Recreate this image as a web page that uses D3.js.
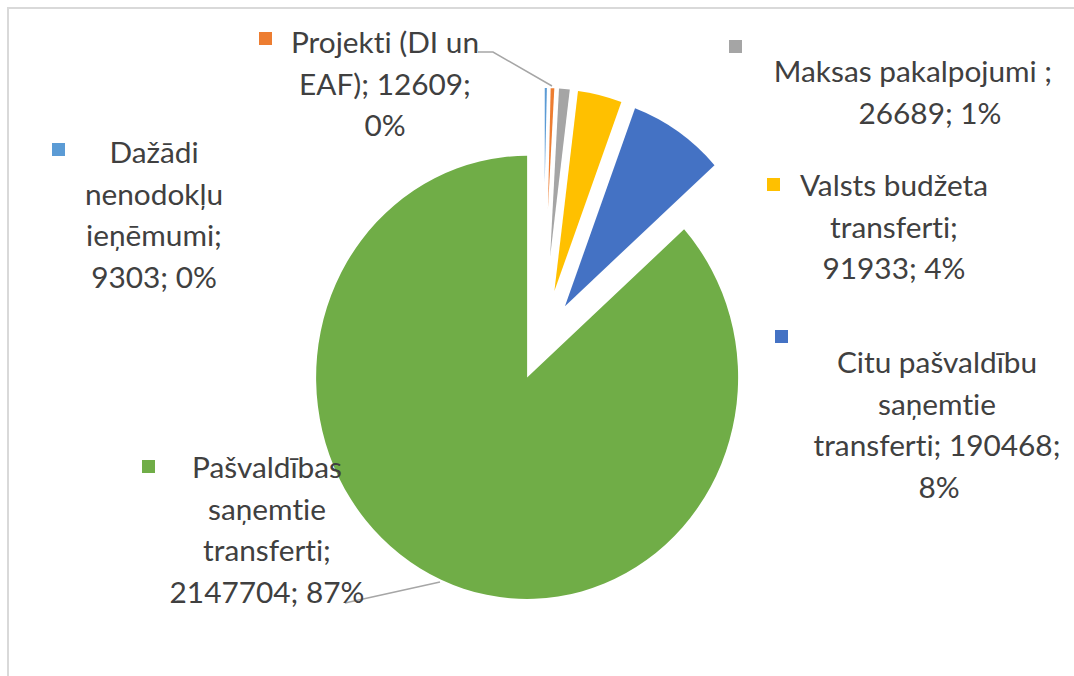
<!DOCTYPE html>
<html><head><meta charset="utf-8">
<script src="https://cdn.jsdelivr.net/npm/d3@7"></script>
<style>html,body{margin:0;padding:0;background:#fff;}svg{display:block;}text{font-variant-ligatures:none;font-feature-settings:"liga" 0,"clig" 0;}</style>
</head><body>
<svg id="chart" width="1074" height="676"></svg>
<script>
// ---- data ----
const categories = ["Dažādi nenodokļu ieņēmumi", "Projekti (DI un EAF)", "Maksas pakalpojumi ", "Valsts budžeta transferti", "Citu pašvaldību saņemtie transferti", "Pašvaldības saņemtie transferti"];
const values = [9303, 12609, 26689, 91933, 190468, 2147704];
const percents = ["0%", "0%", "1%", "4%", "8%", "87%"];
const colors = ["#5B9BD5", "#ED7D31", "#A5A5A5", "#FFC000", "#4472C4", "#70AD47"];

// label text lines (wrapped as in the original)
const labelLines = [
  ["Dažādi", "nenodokļu", "ieņēmumi;", `${values[0]}; ${percents[0]}`],
  ["Projekti (DI un", `EAF); ${values[1]};`, percents[1]],
  ["Maksas pakalpojumi ;", `${values[2]}; ${percents[2]}`],
  ["Valsts budžeta", "transferti;", `${values[3]}; ${percents[3]}`],
  ["Citu pašvaldību", "saņemtie", `transferti; ${values[4]};`, percents[4]],
  ["Pašvaldības", "saņemtie", "transferti;", `${values[5]}; ${percents[5]}`]
];

// ---- layout (positions/styles) ----
const cx = 543, cy = 340, sy = 1.05;
const explode = [150, 125, 80, 48, 39, 39];
const radius = [90, 115, 160, 192, 201, 211];
const labelPos = [
  {x: 154, y: 163, sq: [52, 143], lineX: [0,0,0,0]},
  {x: 385, y: 53, sq: [259, 32], lineX: [0,0,0]},
  {x: 913, y: 82, sq: [729, 40], lineX: [0,17]},
  {x: 894, y: 196, sq: [767, 178], lineX: [0,0,0]},
  {x: 937, y: 373, sq: [775, 330], lineX: [0,0,0,2]},
  {x: 267, y: 478, sq: [142, 460], lineX: [0,0,0,0]}
];
const lineH = 41.5;

const svg = d3.select("#chart");

// border
svg.append("rect").attr("x", 8).attr("y", 8).attr("width", 1100).attr("height", 700)
  .attr("fill", "none").attr("stroke", "#d9d9d9").attr("stroke-width", 2);

const pie = d3.pie().sort(null).value(d => d)(values);

const g = svg.append("g").attr("transform", `translate(${cx},${cy}) scale(1,${sy})`);
g.selectAll("path").data(pie).join("path")
  .attr("transform", (d, i) => {
    const mid = (d.startAngle + d.endAngle) / 2;
    return `translate(${explode[i] * Math.sin(mid)},${-explode[i] * Math.cos(mid)})`;
  })
  .attr("d", (d, i) => d3.arc().innerRadius(0).outerRadius(radius[i])(d))
  .attr("fill", (d, i) => colors[i]);

// leader lines
const leaders = [
  [[478, 52], [493, 52], [552, 86]],
  [[345, 603], [440, 582]]
];
svg.selectAll("path.leader").data(leaders).join("path")
  .attr("class", "leader")
  .attr("d", d3.line())
  .attr("fill", "none").attr("stroke", "#a6a6a6").attr("stroke-width", 1.5);

// labels
const lg = svg.append("g");
labelLines.forEach((lines, i) => {
  const p = labelPos[i];
  lg.append("rect").attr("x", p.sq[0]).attr("y", p.sq[1]).attr("width", 13).attr("height", 13).attr("fill", colors[i]);
  const t = lg.append("text")
    .attr("font-family", "Lato, 'Open Sans', sans-serif")
    .attr("font-size", 29.8)
    .attr("fill", "#404040")
    .attr("text-anchor", "middle");
  lines.forEach((ln, j) => {
    t.append("tspan").attr("x", p.x + p.lineX[j]).attr("y", p.y + j * lineH).text(ln);
  });
});
</script>
</body></html>
